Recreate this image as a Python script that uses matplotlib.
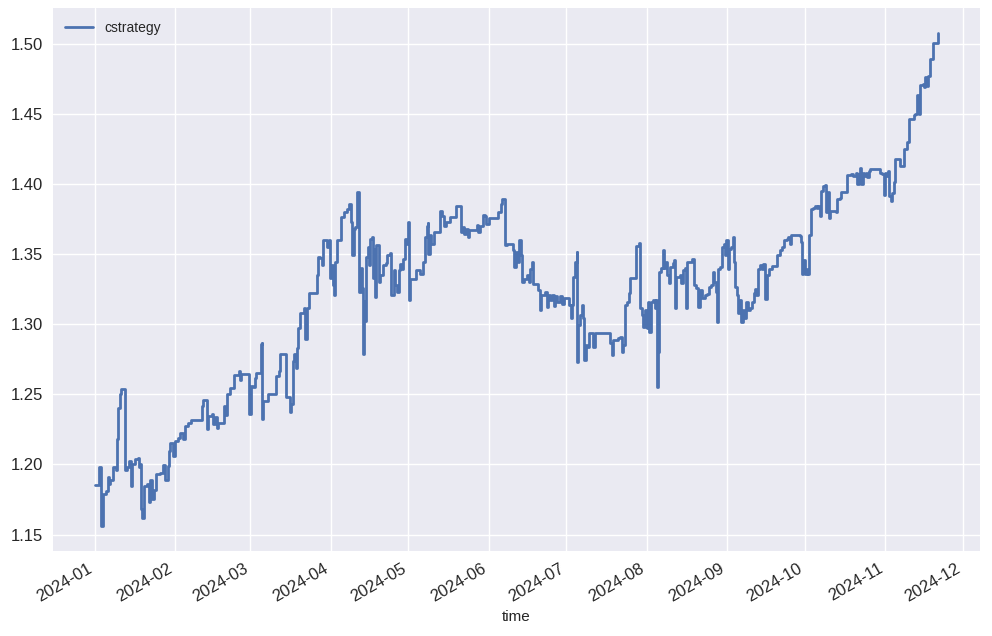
import matplotlib
matplotlib.use("Agg")
import matplotlib.pyplot as plt
import matplotlib.dates as mdates
import pandas as pd

plt.style.use("seaborn-v0_8")

# (days since 2024-01-01, cstrategy value)
jan_feb = [
    (0, 1.185), (1.8, 1.198), (2.4, 1.156), (3.0, 1.1786), (4.3, 1.181), (5.0, 1.191),
    (5.6, 1.186), (6.0, 1.189), (7.2, 1.198), (8.1, 1.196), (8.5, 1.218), (9.1, 1.2405),
    (9.7, 1.250), (10.3, 1.254), (11.7, 1.196), (12.3, 1.198), (13.2, 1.2024),
    (13.8, 1.1845), (14.2, 1.200), (15.5, 1.2036), (16.5, 1.2048), (17.0, 1.198),
    (17.6, 1.200), (17.8, 1.168), (18.4, 1.162), (18.9, 1.1845), (20.3, 1.186),
    (20.8, 1.173), (21.5, 1.189), (22.1, 1.175), (22.7, 1.182), (23.7, 1.193),
    (25.0, 1.194), (26.3, 1.1995), (27.3, 1.189), (28.2, 1.199), (28.6, 1.2095),
    (29.2, 1.2155), (30.1, 1.206), (31.0, 1.2167), (32.0, 1.219), (33.0, 1.2226),
    (33.9, 1.218), (34.8, 1.2274), (35.8, 1.2298), (37.0, 1.2314), (41.3, 1.2417),
    (41.9, 1.2457), (43.2, 1.225), (43.7, 1.2345), (45.3, 1.236), (45.7, 1.2286),
    (46.3, 1.2338), (47.2, 1.2262), (47.6, 1.2298), (49.8, 1.2417), (50.4, 1.2352),
    (51.0, 1.250), (52.0, 1.2548), (53.6, 1.2638), (55.5, 1.2667), (55.9, 1.2600),
    (56.4, 1.2644),
]
mar_apr = [
    (59.5, 1.236), (60.1, 1.256), (61.0, 1.255), (61.7, 1.262), (62.3, 1.265),
    (64.2, 1.2856), (64.6, 1.2868), (64.7, 1.2325), (65.1, 1.2455), (66.8, 1.250),
    (70.0, 1.263), (71.0, 1.2667), (71.5, 1.2785), (73.8, 1.2479), (75.3, 1.2373),
    (75.6, 1.243), (76.3, 1.2738), (77.0, 1.2785), (77.6, 1.269), (78.2, 1.2833),
    (78.6, 1.2974), (79.1, 1.308), (80.8, 1.3116), (81.2, 1.2892), (81.7, 1.3116),
    (82.5, 1.3127), (82.7, 1.3226), (85.8, 1.3351), (86.3, 1.348), (86.9, 1.347),
    (87.6, 1.3422), (88.2, 1.3599), (89.7, 1.3552), (90.3, 1.3599), (90.6, 1.3328),
    (91.2, 1.3422), (91.9, 1.3281), (92.3, 1.321), (92.7, 1.3446), (93.3, 1.3458),
    (93.6, 1.3599), (95.0, 1.3764), (96.1, 1.3804), (97.4, 1.3823), (98.0, 1.3858),
    (98.7, 1.3729), (99.3, 1.3493), (99.9, 1.3682), (100.6, 1.3693), (101.2, 1.3941),
    (102.1, 1.3233), (102.6, 1.3399), (103.1, 1.3257), (103.5, 1.2785),
    (103.9, 1.3163), (104.4, 1.3021), (104.8, 1.3481), (105.4, 1.3552),
    (105.7, 1.3422), (106.3, 1.361), (107.0, 1.3623), (107.3, 1.3328),
    (107.6, 1.354), (108.2, 1.3198), (108.6, 1.3564), (109.5, 1.3304),
    (110.2, 1.3351), (111.2, 1.3422), (112.4, 1.3434), (112.8, 1.3498),
    (114.0, 1.3512), (114.4, 1.321), (115.3, 1.3387), (115.9, 1.328),
    (116.6, 1.3232), (117.2, 1.3385), (117.8, 1.3433), (118.5, 1.3397),
    (119.1, 1.3468), (119.7, 1.361), (120.5, 1.3574),
]
may_jun = [
    (121.0, 1.3733), (121.3, 1.3173), (121.6, 1.3326), (123.8, 1.3385),
    (125.4, 1.3362), (126.7, 1.3444), (127.4, 1.3622), (128.0, 1.3704),
    (128.4, 1.3723), (128.6, 1.3504), (129.3, 1.3634), (129.9, 1.3574),
    (130.9, 1.3662), (133.3, 1.3811), (133.9, 1.3775), (134.7, 1.3704),
    (135.6, 1.3728), (136.9, 1.3768), (139.4, 1.3842), (141.3, 1.3657),
    (141.9, 1.3693), (142.6, 1.3645), (143.2, 1.3681), (143.9, 1.3622),
    (144.5, 1.3676), (147.4, 1.3709), (147.9, 1.3657), (148.7, 1.3704),
    (149.6, 1.378), (150.5, 1.3775), (151.0, 1.3716), (152.1, 1.3757),
    (155.7, 1.3799), (156.6, 1.3858), (157.3, 1.3894), (158.2, 1.3563),
    (159.1, 1.3574), (161.4, 1.3527), (161.9, 1.3409), (162.7, 1.3515),
    (163.2, 1.3444), (163.8, 1.3598), (164.4, 1.3492), (164.8, 1.3303),
    (165.5, 1.3326), (166.7, 1.335), (167.4, 1.3303), (168.0, 1.3397),
    (168.6, 1.3444), (169.0, 1.3291), (171.2, 1.3243), (171.8, 1.3102),
    (172.2, 1.3208), (173.7, 1.3232), (174.4, 1.3125), (175.0, 1.3208),
    (175.6, 1.3174), (176.3, 1.321), (177.2, 1.3133), (177.6, 1.3205),
    (178.5, 1.3162), (179.4, 1.3205), (180.2, 1.3143), (181.1, 1.319),
]
jul_aug = [
    (182.4, 1.3186), (183.0, 1.3138), (183.7, 1.3043), (184.1, 1.3138),
    (184.6, 1.334), (185.4, 1.3448), (185.9, 1.3514), (186.0, 1.2733),
    (186.6, 1.2995), (187.3, 1.3067), (187.9, 1.3138), (188.5, 1.3043),
    (188.8, 1.2745), (189.5, 1.2852), (190.1, 1.284), (190.8, 1.2936),
    (192.4, 1.284), (192.9, 1.2936), (198.8, 1.2864), (199.5, 1.2781),
    (200.1, 1.2888), (201.7, 1.290), (202.6, 1.2912), (203.3, 1.2805),
    (203.9, 1.2852), (204.7, 1.3138), (205.4, 1.3162), (206.0, 1.3221),
    (206.5, 1.3329), (208.8, 1.3562), (209.8, 1.3579), (210.4, 1.3114),
    (211.1, 1.3067), (211.7, 1.2983), (212.4, 1.3102), (213.0, 1.2971),
    (213.6, 1.3162), (214.0, 1.2948), (214.6, 1.3162), (215.3, 1.3174),
    (216.0, 1.3114), (216.6, 1.3174), (217.0, 1.2555), (217.3, 1.2805),
    (217.6, 1.3376), (218.5, 1.340), (219.2, 1.3531), (219.8, 1.340),
    (220.2, 1.3448), (220.7, 1.3352), (221.5, 1.3293), (222.0, 1.3412),
    (223.0, 1.3436), (223.4, 1.346), (223.8, 1.3114), (224.3, 1.334),
    (225.6, 1.3352), (226.3, 1.3293), (226.9, 1.3388), (227.6, 1.340),
    (228.0, 1.3114), (228.5, 1.3448), (230.5, 1.3467), (231.0, 1.3281),
    (232.0, 1.3257), (232.7, 1.3126), (233.4, 1.3245), (234.4, 1.3186),
    (235.3, 1.321), (236.3, 1.3213), (236.9, 1.3267), (237.9, 1.3279),
    (238.5, 1.3373), (239.1, 1.3303), (239.5, 1.3232), (239.9, 1.3014),
    (240.4, 1.3397), (241.2, 1.3409), (242.1, 1.3551), (242.7, 1.3574),
    (243.0, 1.3492), (243.7, 1.3598),
]
sep_oct = [
    (244.3, 1.3397), (244.6, 1.3539), (245.5, 1.3551), (246.3, 1.3622),
    (246.8, 1.3444), (247.2, 1.3267), (247.8, 1.3208), (248.2, 1.3078),
    (248.7, 1.3173), (249.4, 1.3019), (250.0, 1.3102), (250.6, 1.3043),
    (251.4, 1.3156), (252.0, 1.3102), (252.9, 1.3118), (253.6, 1.3161),
    (254.3, 1.322), (254.9, 1.3255), (255.2, 1.3208), (255.7, 1.3397),
    (256.8, 1.3421), (257.4, 1.3397), (258.0, 1.3433), (258.7, 1.3184),
    (259.4, 1.335), (260.0, 1.3397), (261.2, 1.3416), (263.4, 1.3492),
    (264.4, 1.3527), (265.1, 1.3551), (266.0, 1.3598), (267.0, 1.361),
    (267.6, 1.3622), (268.2, 1.3574), (268.5, 1.3634), (270.2, 1.3638),
    (272.1, 1.3629), (272.5, 1.3586), (272.9, 1.3362), (273.4, 1.3456),
    (274.0, 1.3362), (274.7, 1.3397), (275.3, 1.3362), (275.7, 1.3634),
    (276.2, 1.3823), (277.2, 1.3827), (277.8, 1.3846), (278.5, 1.3827),
    (279.1, 1.3846), (279.8, 1.3775), (280.0, 1.3953), (280.8, 1.3988),
    (281.7, 1.3993), (282.0, 1.3965), (282.3, 1.3799), (282.7, 1.3941),
    (283.2, 1.3757), (283.8, 1.3811), (285.9, 1.3799), (286.4, 1.3894),
    (287.4, 1.3898), (287.8, 1.3941), (289.7, 1.3946), (290.2, 1.4066),
    (291.9, 1.4071), (292.6, 1.4059), (293.8, 1.4083), (294.2, 1.400),
    (294.7, 1.4071), (295.3, 1.4118), (295.7, 1.400), (296.3, 1.4083),
    (296.7, 1.406), (297.6, 1.4083), (298.0, 1.4048), (298.6, 1.4095),
    (299.2, 1.4107), (302.7, 1.4107), (303.1, 1.4083), (303.8, 1.4071),
    (304.4, 1.3921),
]
nov = [
    (304.8, 1.4083), (305.3, 1.406), (306.0, 1.4095), (306.5, 1.3917),
    (307.0, 1.3881), (307.6, 1.394), (308.3, 1.4012), (308.6, 1.4179),
    (310.7, 1.4126), (312.4, 1.425), (313.3, 1.4298), (314.3, 1.4464),
    (315.9, 1.4493), (316.5, 1.450), (317.1, 1.4636), (318.0, 1.450),
    (318.3, 1.471), (319.7, 1.4714), (320.0, 1.469), (320.3, 1.4762),
    (320.9, 1.4702), (321.3, 1.4774), (322.2, 1.4893), (323.3, 1.5007),
    (325.3, 1.5079),
]

points = jan_feb + mar_apr + may_jun + jul_aug + sep_oct + nov
days = [p[0] for p in points]
cstrategy = [p[1] for p in points]
time = pd.Timestamp("2024-01-01") + pd.to_timedelta(days, unit="D")

fig, ax = plt.subplots(figsize=(9.92, 6.36), dpi=100)
ax.plot(time, cstrategy, drawstyle="steps-post", color="#4C72B0", lw=2.0, label="cstrategy")
ax.xaxis.set_major_locator(mdates.MonthLocator())
ax.xaxis.set_major_formatter(mdates.DateFormatter("%Y-%m"))
ax.set_xlabel("time")
ax.tick_params(labelsize=12)
ax.legend(loc="upper left")
fig.autofmt_xdate()
fig.subplots_adjust(left=0.053, right=0.988, top=0.987, bottom=0.134)
fig.savefig("out.png")
